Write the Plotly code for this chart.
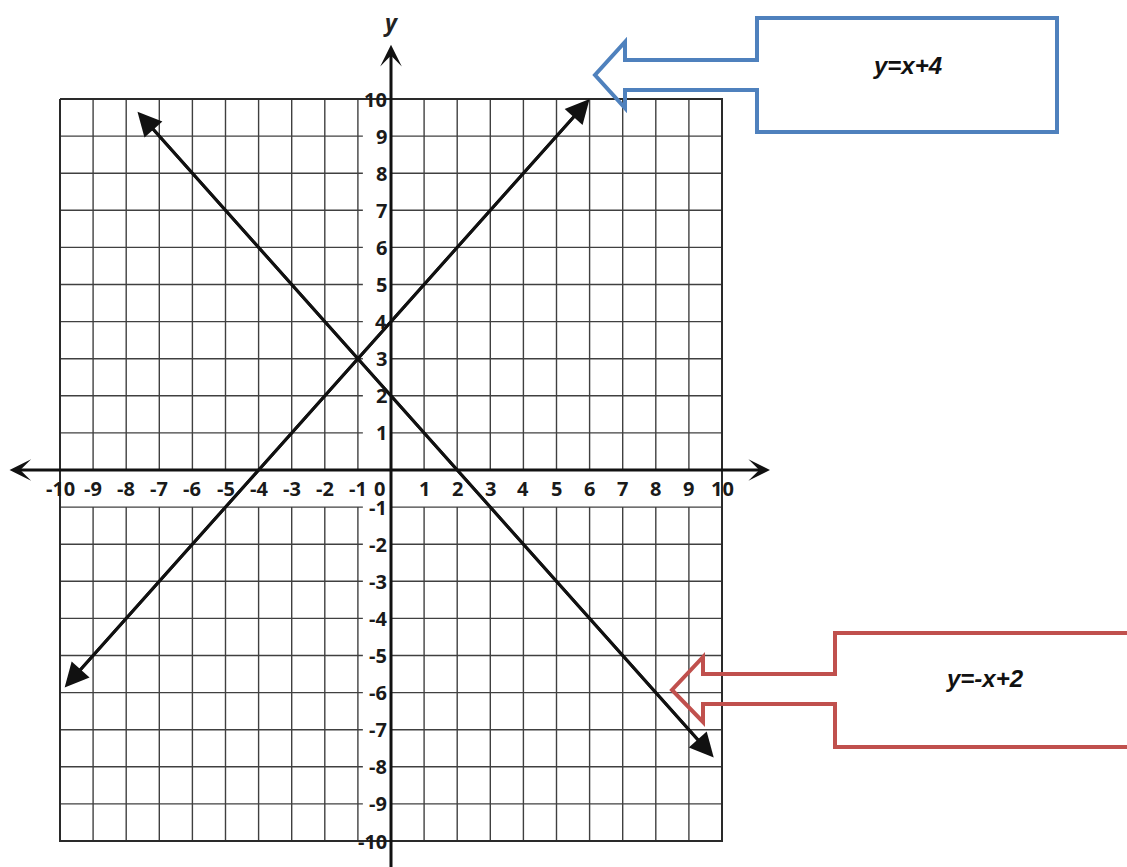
import plotly.graph_objects as go

W, H = 1127, 867

# ---- data ----
ticks = list(range(-10, 11))
x_tick_labels = [str(t) for t in ticks]
y_tick_labels = [str(t) for t in ticks if t != 0]

line_names = ["y=x+4", "y=-x+2"]
slopes = [1, -1]
intercepts = [4, 2]
x_starts = [-9.9, -7.7]
x_ends = [6.0, 9.75]

callout_colors = ["#4F81BD", "#C0504D"]

# ---- scale calibration (px per unit, origin in px) ----
PX_X, OX = 33.1, 391.0
PX_Y, OY = 37.1, 470.0
x_range = [-OX / PX_X, (W - OX) / PX_X]
y_range = [(OY - H) / PX_Y, OY / PX_Y]


def paper(px, py):
    return px / W, 1 - py / H


fig = go.Figure()

# grid: vertical lines (skip the label row between y=-1 and y=0)
gx, gy = [], []
for t in ticks:
    gx += [t, t, None, t, t, None]
    gy += [-10, -1, None, 0, 10, None]
# horizontal lines (skip the label column between x=-1 and x=0)
for t in ticks:
    gx += [-10, -0.85, None, 0, 10, None]
    gy += [t, t, None, t, t, None]
fig.add_trace(go.Scatter(x=gx, y=gy, mode="lines",
                         line=dict(color="#404040", width=1.4),
                         hoverinfo="skip", showlegend=False))
# outer border slightly heavier
fig.add_trace(go.Scatter(x=[-10, 10, 10, -10, -10], y=[10, 10, -10, -10, 10],
                         mode="lines", line=dict(color="#2a2a2a", width=2),
                         hoverinfo="skip", showlegend=False))

# the two lines (trace stops just short of the tips so the arrowheads stay clean)
TRIM = 0.3
for m, b, x0, x1, name in zip(slopes, intercepts, x_starts, x_ends, line_names):
    xa, xb = x0 + TRIM, x1 - TRIM
    fig.add_trace(go.Scatter(x=[xa, xb], y=[m * xa + b, m * xb + b], mode="lines",
                             line=dict(color="#111111", width=3),
                             name=name, hoverinfo="skip", showlegend=False))
    fig.add_annotation(x=x1, y=m * x1 + b, ax=x0, ay=m * x0 + b,
                       xref="x", yref="y", axref="x", ayref="y", text="",
                       showarrow=True, arrowhead=2, startarrowhead=2,
                       arrowside="end+start", arrowsize=1.6, startarrowsize=1.6,
                       arrowwidth=3, arrowcolor="#111111", standoff=0, startstandoff=0)

# axes with arrows
fig.add_annotation(x=11.45, y=0, ax=-11.57, ay=0, xref="x", yref="y", axref="x", ayref="y",
                   text="", showarrow=True, arrowhead=3, startarrowhead=3,
                   arrowside="end+start", arrowsize=1.2, startarrowsize=1.2,
                   arrowwidth=3, arrowcolor="#111111")
fig.add_annotation(x=0, y=11.46, ax=0, ay=y_range[0] - 0.2, xref="x", yref="y", axref="x", ayref="y",
                   text="", showarrow=True, arrowhead=3, arrowside="end",
                   arrowsize=1.2, arrowwidth=3, arrowcolor="#111111")

tick_font = dict(family="Open Sans", size=20, color="#1a1a1a")
for t, lab in zip(ticks, x_tick_labels):
    fig.add_annotation(x=(t if t != 0 else -0.36), y=-0.5, xref="x", yref="y",
                       text="<b>%s</b>" % lab, showarrow=False, font=tick_font,
                       xanchor="center", yanchor="middle")
for t, lab in zip([t for t in ticks if t != 0], y_tick_labels):
    fig.add_annotation(x=-0.06, y=t, xref="x", yref="y",
                       text="<b>%s</b>" % lab, showarrow=False, font=tick_font,
                       xanchor="right", yanchor="middle")

# y axis title
yx, yy = paper(391, 22)
fig.add_annotation(x=yx, y=yy, xref="paper", yref="paper", text="<b><i>y</i></b>",
                   showarrow=False, font=dict(family="Open Sans", size=23, color="#222"),
                   xanchor="center", yanchor="middle")


def path_from(points, close=True):
    s = ""
    for i, (px, py) in enumerate(points):
        x, y = paper(px, py)
        s += ("M" if i == 0 else "L") + "%.5f,%.5f " % (x, y)
    return s + ("Z" if close else "")


# blue callout
blue_pts = [(757, 18), (1057, 18), (1057, 132), (757, 132), (757, 90), (625, 90),
            (625, 108), (595, 75), (625, 42), (625, 60), (757, 60)]
fig.add_shape(type="path", xref="paper", yref="paper", path=path_from(blue_pts),
              line=dict(color=callout_colors[0], width=4))
# red callout (right side runs off the page)
red_pts = [(1140, 633), (835, 633), (835, 674), (703, 674), (703, 657), (672, 690),
           (703, 722), (703, 704), (835, 704), (835, 747), (1140, 747)]
fig.add_shape(type="path", xref="paper", yref="paper", path=path_from(red_pts, close=False),
              line=dict(color=callout_colors[1], width=4))

cfont = dict(family="Liberation Sans", size=24, color="#111111")
tx, ty = paper(907, 65)
fig.add_annotation(x=tx, y=ty, xref="paper", yref="paper", text="<b><i>%s</i></b>" % line_names[0],
                   showarrow=False, font=cfont, xanchor="center", yanchor="middle")
tx, ty = paper(985, 678)
fig.add_annotation(x=tx, y=ty, xref="paper", yref="paper", text="<b><i>%s</i></b>" % line_names[1],
                   showarrow=False, font=cfont, xanchor="center", yanchor="middle")

fig.update_layout(width=W, height=H, margin=dict(l=0, r=0, t=0, b=0),
                  paper_bgcolor="white", plot_bgcolor="white", showlegend=False,
                  xaxis=dict(range=x_range, visible=False, fixedrange=True),
                  yaxis=dict(range=y_range, visible=False, fixedrange=True))

fig.write_html("out.html", config={"displayModeBar": False},
               post_script="document.body.style.margin='0';"
                           "document.body.style.overflow='hidden';"
                           "document.documentElement.style.overflow='hidden';")
